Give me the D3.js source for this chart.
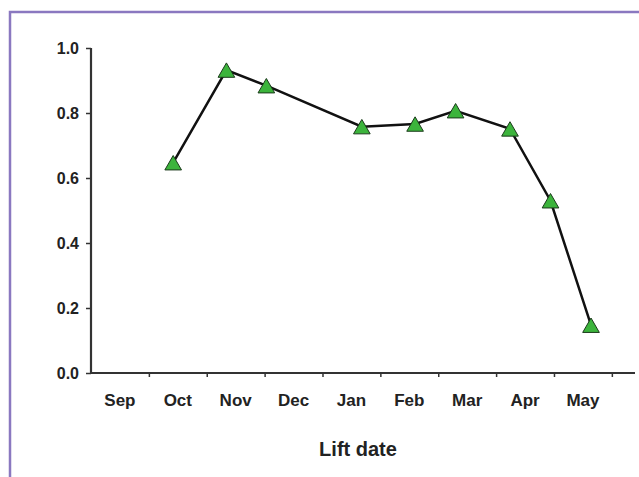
<!DOCTYPE html>
<html>
<head>
<meta charset="utf-8">
<script src="https://cdn.jsdelivr.net/npm/d3@7"></script>
<style>
  html, body { margin: 0; padding: 0; background: #fff; }
  svg { display: block; font-family: "Liberation Sans", Arial, sans-serif; }
</style>
</head>
<body>
<svg id="chart" width="639" height="477"></svg>
<script>
// month labels along the x axis (Sep = first month)
const months = ['Sep', 'Oct', 'Nov', 'Dec', 'Jan', 'Feb', 'Mar', 'Apr', 'May'];
// lift date, in months since 1 Sep
const liftMonth = [1.42, 2.34, 3.03, 4.68, 5.6, 6.3, 7.24, 7.94, 8.64];
// measured proportion
const values = [0.647, 0.932, 0.884, 0.758, 0.766, 0.807, 0.751, 0.53, 0.147];
const yTicks = [0, 0.2, 0.4, 0.6, 0.8, 1.0];

const svg = d3.select('#chart');

// purple frame (top + left only)
svg.append('path')
  .attr('d', 'M10,477 V12 H639')
  .attr('fill', 'none')
  .attr('stroke', '#8a78c0')
  .attr('stroke-width', 2.5);

const x = d3.scaleLinear().domain([0, 9.4]).range([91, 635]);
const y = d3.scaleLinear().domain([0, 1]).range([373, 48]);

// x axis
const xAxis = svg.append('g')
  .attr('transform', `translate(0,${y(0)})`)
  .call(
    d3.axisBottom(x)
      .tickValues(d3.range(1, 10))
      .tickSize(4)
      .tickFormat(''),
  );
xAxis.select('.domain')
  .attr('d', `M${x(0)},0H${x(9.4)}`)
  .attr('stroke', '#333')
  .attr('stroke-width', 2.2);
xAxis.selectAll('.tick line').attr('stroke', '#333').attr('stroke-width', 1.5);

svg.append('g')
  .selectAll('text')
  .data(months)
  .enter()
  .append('text')
  .attr('x', (d, i) => x(i + 0.5))
  .attr('y', 406)
  .attr('text-anchor', 'middle')
  .attr('font-size', 17)
  .attr('font-weight', 'bold')
  .attr('fill', '#222')
  .text((d) => d);

// y axis
const yAxis = svg.append('g')
  .attr('transform', `translate(${x(0)},0)`)
  .call(
    d3.axisLeft(y)
      .tickValues(yTicks)
      .tickSize(5)
      .tickPadding(7)
      .tickFormat(d3.format('.1f')),
  );
yAxis.select('.domain')
  .attr('d', `M0,${y(1)}V${y(0)}`)
  .attr('stroke', '#333')
  .attr('stroke-width', 2.2);
yAxis.selectAll('.tick line').attr('stroke', '#333').attr('stroke-width', 1.5);
yAxis.selectAll('.tick text')
  .attr('font-size', 16)
  .attr('font-weight', 'bold')
  .attr('font-family', '"Liberation Sans", Arial, sans-serif')
  .attr('fill', '#222');

// axis title
svg.append('text')
  .attr('x', 358)
  .attr('y', 456)
  .attr('text-anchor', 'middle')
  .attr('font-size', 20)
  .attr('font-weight', 'bold')
  .attr('fill', '#222')
  .text('Lift date');

// data line
const points = liftMonth.map((m, i) => [m, values[i]]);
svg.append('path')
  .datum(points)
  .attr('fill', 'none')
  .attr('stroke', '#111')
  .attr('stroke-width', 2.5)
  .attr('d', d3.line().x((d) => x(d[0])).y((d) => y(d[1])));

// triangle markers, box-centred on the point
const triSize = 120;
const triY = -Math.sqrt(triSize / (3 * Math.sqrt(3)));
svg.append('g')
  .selectAll('path')
  .data(points)
  .enter()
  .append('path')
  .attr('d', d3.symbol().type(d3.symbolTriangle).size(triSize))
  .attr('transform', (d) => `translate(${x(d[0])},${y(d[1]) - triY / 2})`)
  .attr('fill', '#3cb43c')
  .attr('stroke', '#1a3a1a')
  .attr('stroke-width', 1);
</script>
</body>
</html>
